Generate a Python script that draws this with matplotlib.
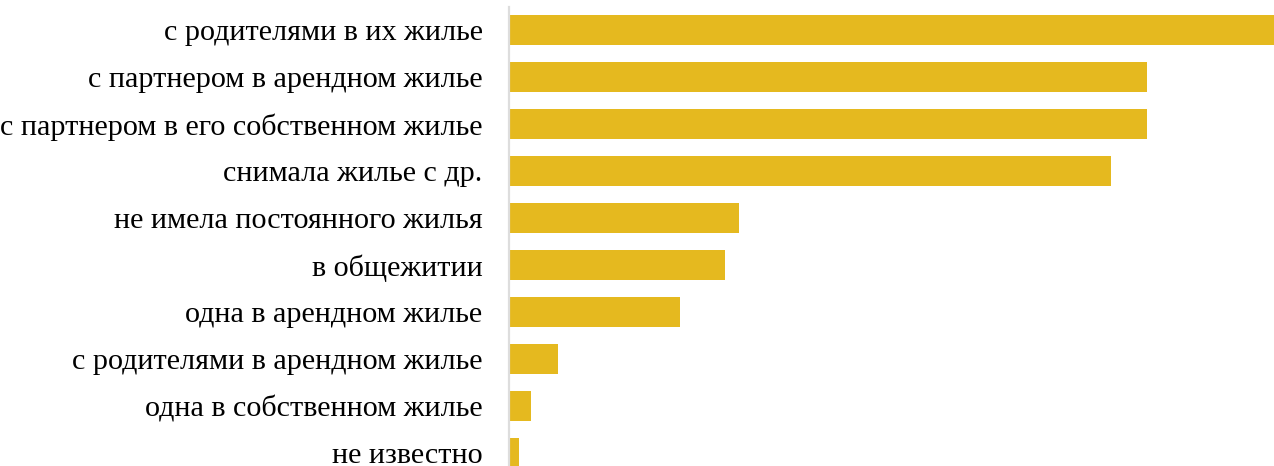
import matplotlib.pyplot as plt

labels = ['с родителями в их жилье',
          'с партнером в арендном жилье',
          'с партнером в его собственном жилье',
          'снимала жилье с др.',
          'не имела постоянного жилья',
          'в общежитии',
          'одна в арендном жилье',
          'с родителями в арендном жилье',
          'одна в собственном жилье',
          'не известно']
values = [36.1, 30.1, 30.1, 28.4, 10.85, 10.2, 8.05, 2.3, 1.05, 0.45]

plt.rcParams['font.family'] = ['Liberation Serif', 'DejaVu Serif']

fig = plt.figure(figsize=(12.74, 4.66), dpi=100)
ax = fig.add_axes([509/1274, 0, 765/1274, 1 - 7/466])

ypos = list(range(len(labels)))
ax.barh(ypos, values, height=0.64, color='#E5B91F')
ax.set_xlim(0, max(values))
ax.set_ylim(9.28, -0.49)
ax.set_yticks(ypos)
ax.set_yticklabels(labels, fontsize=21.7)
ax.tick_params(axis='y', length=0, pad=19)
ax.set_xticks([])
for s in ['top', 'right', 'bottom']:
    ax.spines[s].set_visible(False)
ax.spines['left'].set_color('#dddddd')
ax.spines['left'].set_linewidth(1.6)

fig.savefig('out.png', dpi=100)
